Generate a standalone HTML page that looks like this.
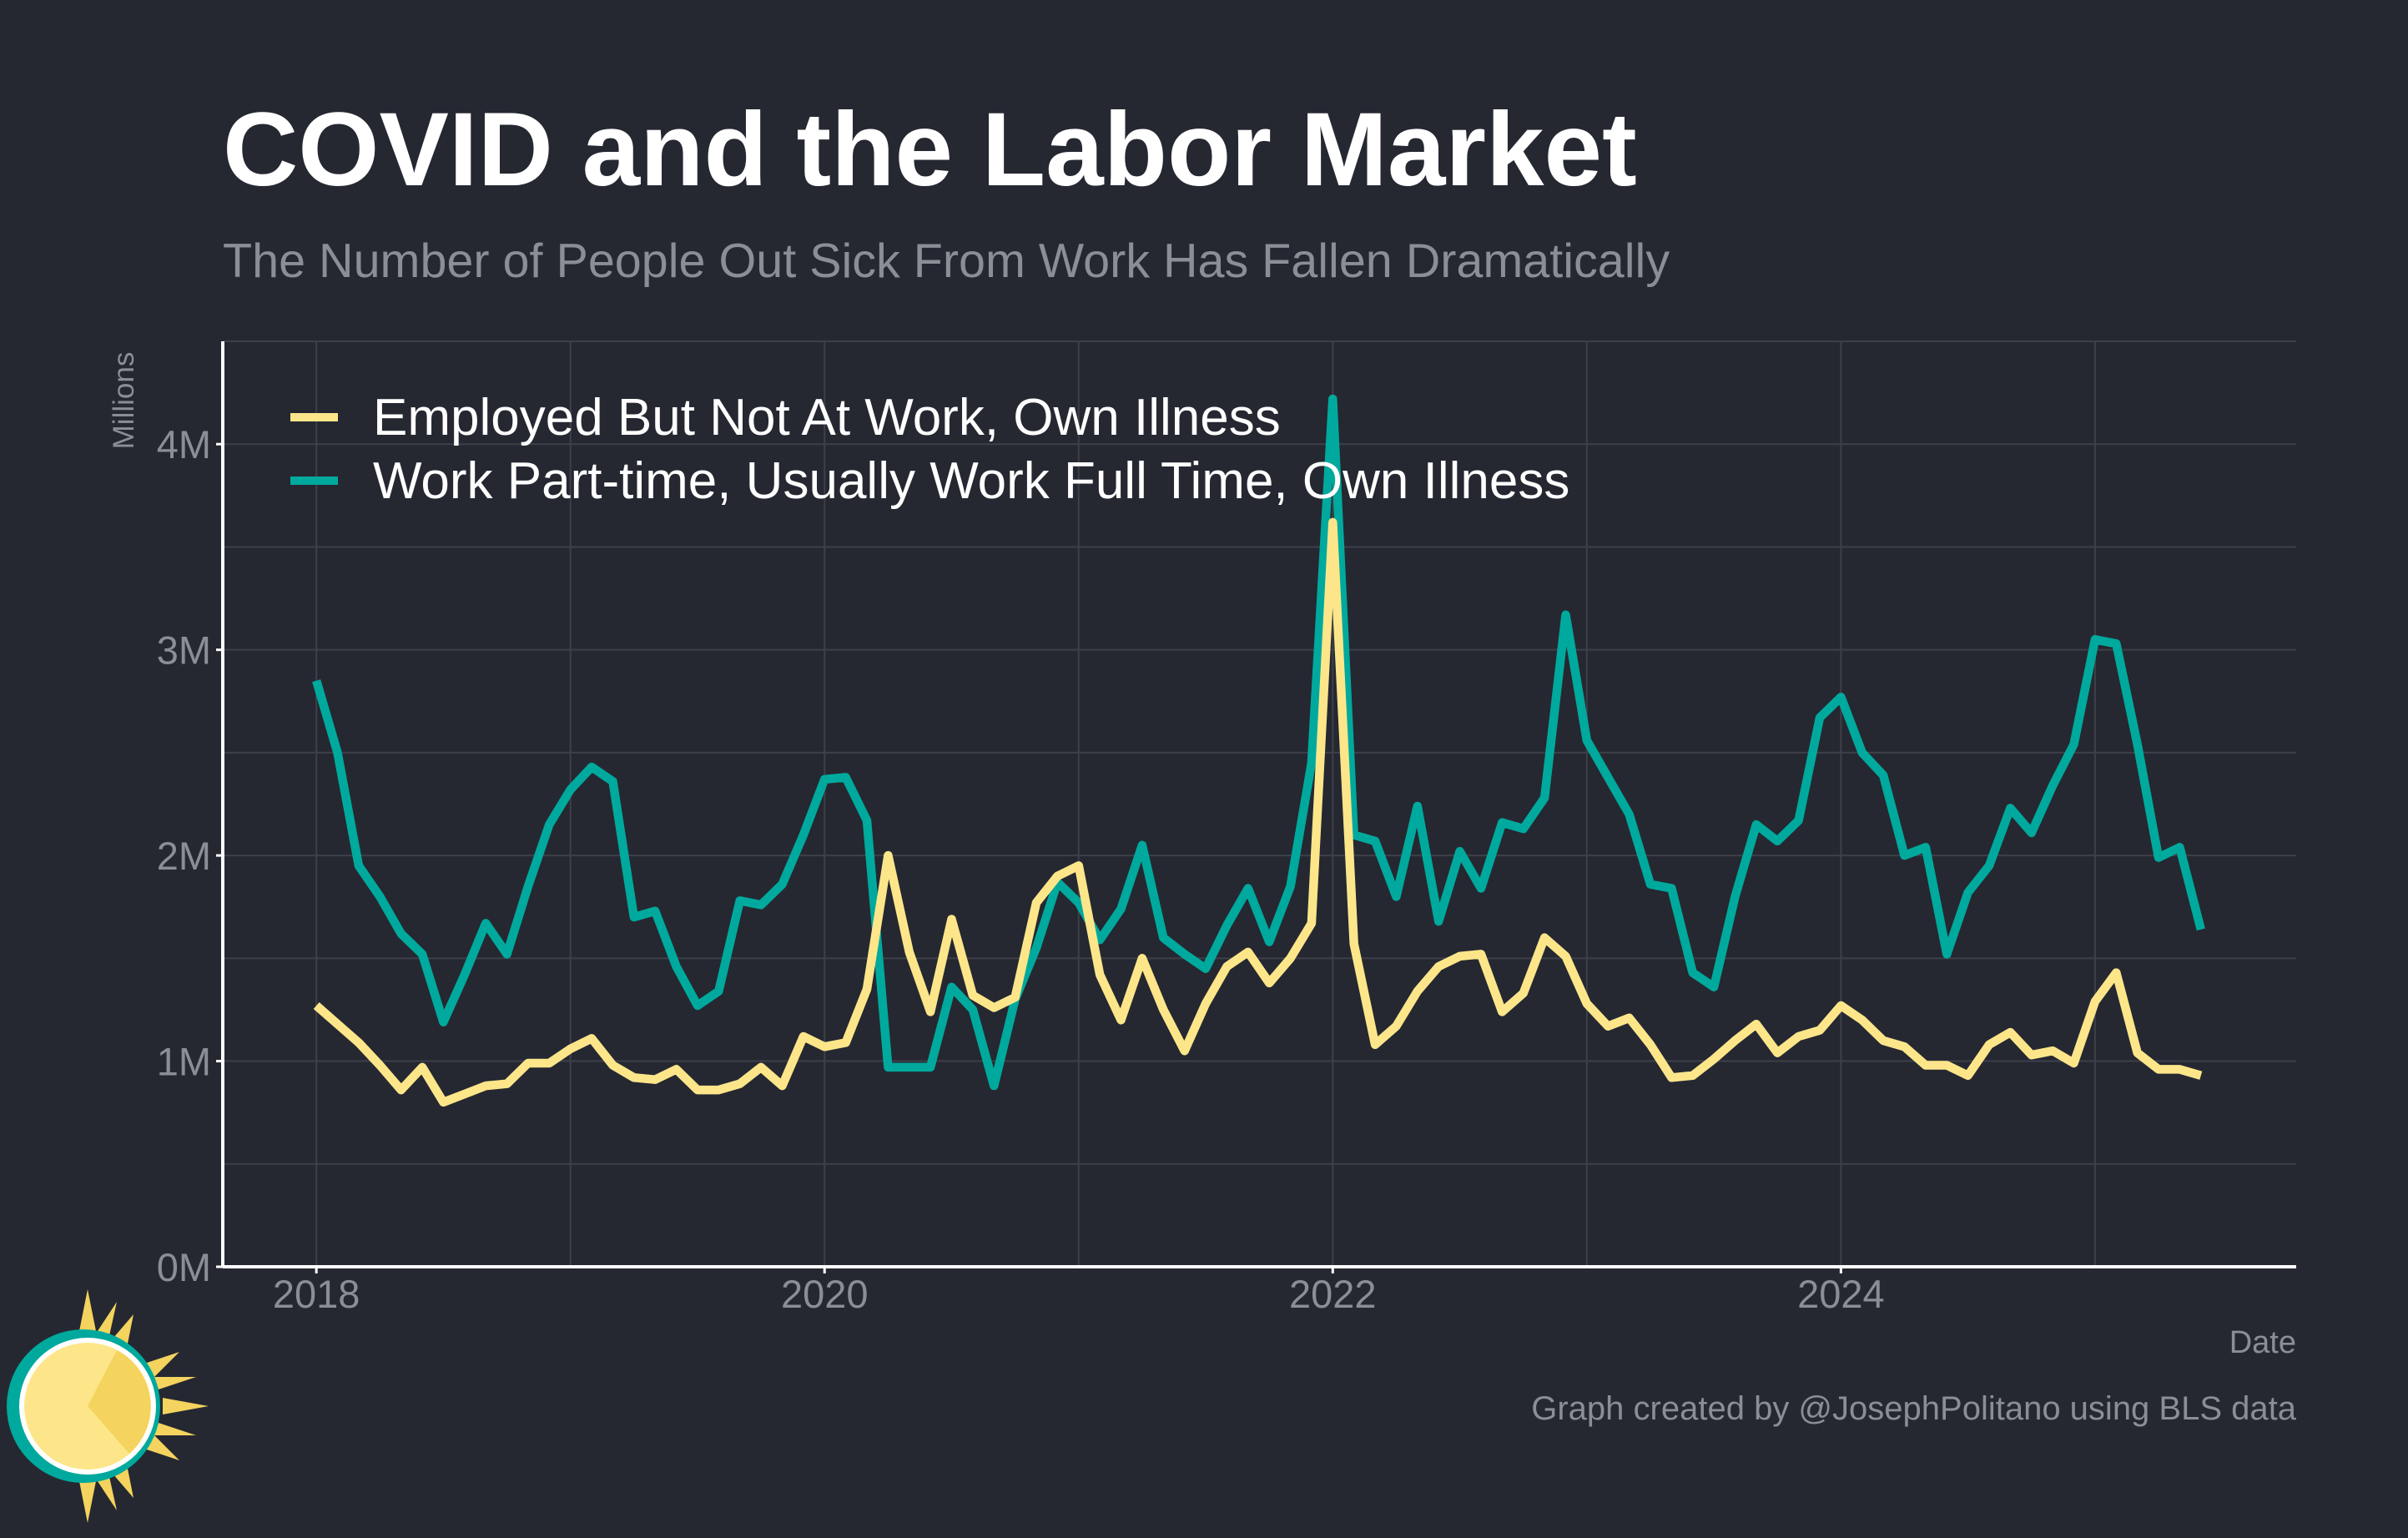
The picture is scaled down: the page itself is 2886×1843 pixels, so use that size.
<!DOCTYPE html>
<html><head><meta charset="utf-8"><style>
html,body{margin:0;padding:0;background:#252831;}
svg{display:block;font-family:"Liberation Sans",Arial,sans-serif;}
</style></head><body>
<svg id="chart" width="2886" height="1843" viewBox="0 0 2886 1843" xmlns="http://www.w3.org/2000/svg">
<rect width="2886" height="1843" fill="#252831"/>
<text x="267" y="222" font-size="125" font-weight="bold" fill="#ffffff">COVID and the Labor Market</text>
<text x="267" y="332" font-size="57.5" fill="#8b8e94">The Number of People Out Sick From Work Has Fallen Dramatically</text>
<g id="grid"></g>
<g id="series"></g>
<g id="axes"></g>
<text x="160" y="480" font-size="35" fill="#8b8e94" text-anchor="middle" transform="rotate(-90 160 480)">Millions</text>
<text x="2752" y="1621" font-size="38" fill="#8b8e94" text-anchor="end">Date</text>
<text x="2752" y="1701" font-size="40" fill="#8b8e94" text-anchor="end">Graph created by @JosephPolitano using BLS data</text>
<g>
<line x1="348" y1="500" x2="405" y2="500" stroke="#fde68a" stroke-width="10"/>
<text x="447" y="521" font-size="62" fill="#ffffff">Employed But Not At Work, Own Illness</text>
<line x1="348" y1="576" x2="405" y2="576" stroke="#00a99d" stroke-width="10"/>
<text x="447" y="597" font-size="62" fill="#ffffff">Work Part-time, Usually Work Full Time, Own Illness</text>
</g>
<g>
<g fill="#f4d35e">
<polygon points="105,1545 115,1595 95,1595"/><polygon points="105,1825 115,1775 95,1775"/>
<polygon points="250,1685 195,1675 195,1695"/>
<polygon points="160,1575 150,1625 130,1610"/><polygon points="160,1795 130,1760 150,1745"/>
<polygon points="215,1620 180,1655 170,1635"/><polygon points="215,1750 170,1735 180,1715"/>
<polygon points="140,1560 130,1605 115,1598"/><polygon points="140,1810 115,1772 130,1765"/>
<polygon points="235,1650 190,1665 185,1650"/><polygon points="235,1720 185,1720 190,1705"/>
</g>
<circle cx="100" cy="1685" r="92" fill="#00a99d"/>
<circle cx="105" cy="1685" r="82" fill="#ffffff"/>
<circle cx="105" cy="1685" r="76" fill="#fde68a"/>
<path d="M105,1685 L140,1618 A76,76 0 0 1 155,1742 Z" fill="#f4d35e"/>
</g>
<script>
const yTicks=[0,1,2,3,4];
const yTickLabels=["0M","1M","2M","3M","4M"];
const xTickYears=[2018,2020,2022,2024];
const employed=[1.27,1.18,1.09,0.98,0.86,0.97,0.80,0.84,0.88,0.89,0.99,0.99,
1.06,1.11,0.98,0.92,0.91,0.96,0.86,0.86,0.89,0.97,0.88,1.12,
1.07,1.09,1.35,2.00,1.53,1.24,1.69,1.32,1.26,1.31,1.77,1.90,
1.95,1.42,1.20,1.50,1.25,1.05,1.28,1.46,1.53,1.38,1.50,1.67,
3.62,1.57,1.08,1.17,1.34,1.46,1.51,1.52,1.24,1.33,1.60,1.51,
1.28,1.17,1.21,1.08,0.92,0.93,1.01,1.10,1.18,1.04,1.12,1.15,
1.27,1.20,1.10,1.07,0.98,0.98,0.93,1.08,1.14,1.03,1.05,0.99,
1.29,1.43,1.04,0.96,0.96,0.93];
const partTime=[2.85,2.50,1.95,1.80,1.62,1.52,1.19,1.42,1.67,1.52,1.85,2.15,
2.32,2.43,2.36,1.70,1.73,1.46,1.27,1.34,1.78,1.76,1.86,2.10,
2.37,2.38,2.17,0.97,0.97,0.97,1.36,1.25,0.88,1.30,1.55,1.87,
1.77,1.59,1.74,2.05,1.60,1.52,1.45,1.66,1.84,1.58,1.85,2.45,
4.22,2.10,2.07,1.80,2.24,1.68,2.02,1.84,2.16,2.13,2.28,3.17,
2.56,2.38,2.20,1.86,1.84,1.43,1.36,1.80,2.15,2.07,2.17,2.67,
2.77,2.50,2.39,2.00,2.04,1.52,1.82,1.95,2.23,2.11,2.34,2.54,
3.05,3.03,2.54,1.99,2.04,1.64];
const NS="http://www.w3.org/2000/svg";
const L=267,R=2752,T=409,B=1518;
const mMin=-4.42,mMax=93.5,yMax=4.5;
function xs(m){return L+(m-mMin)/(mMax-mMin)*(R-L);}
function ys(v){return B-v/yMax*(B-T);}
function mk(tag,attrs,parent){const e=document.createElementNS(NS,tag);for(const k in attrs)e.setAttribute(k,attrs[k]);parent.appendChild(e);return e;}
const grid=document.getElementById('grid'),axes=document.getElementById('axes'),ser=document.getElementById('series');
for(let v=0.5;v<=yMax+0.001;v+=0.5){
 const g=mk('line',{x1:L,x2:R,y1:ys(v),y2:ys(v),stroke:'#3d4049','stroke-width':2},grid);
 
 
}
for(let yr=2018;yr<=2025;yr++){
 const m=(yr-2018)*12;
 const g=mk('line',{x1:xs(m),x2:xs(m),y1:T,y2:B,stroke:'#3d4049','stroke-width':2},grid);
 
 
}
yTicks.forEach((v,i)=>{
 const t=mk('text',{x:L-14,y:ys(v)+17,'font-size':47,fill:'#8b8e94','text-anchor':'end'},axes);
 t.textContent=yTickLabels[i];
 
 
 const k=mk('line',{x1:L-8,x2:L,y1:ys(v),y2:ys(v),stroke:'#ffffff','stroke-width':3},axes);
 
 
});
xTickYears.forEach(yr=>{
 const x=xs((yr-2018)*12);
 const t=mk('text',{x:x,y:1567,'font-size':47,fill:'#8b8e94','text-anchor':'middle'},axes);
 t.textContent=String(yr);
 
 
 const k=mk('line',{x1:x,x2:x,y1:B,y2:B+8,stroke:'#ffffff','stroke-width':3},axes);
 
 
});
const ya=mk('line',{x1:L,x2:L,y1:T,y2:B,stroke:'#ffffff','stroke-width':4},axes);


const xa=mk('line',{x1:L,x2:R,y1:B,y2:B,stroke:'#ffffff','stroke-width':4},axes);


function line(arr,color,name){
 const d=arr.map((v,i)=>(i?'L':'M')+xs(i).toFixed(1)+','+ys(v).toFixed(1)).join(' ');
 const p=mk('path',{d:d,fill:'none',stroke:color,'stroke-width':10.5,'stroke-linejoin':'round'},ser);
 
 
}
line(partTime,'#00a99d','line-parttime-own-illness');
line(employed,'#fde68a','line-employed-not-at-work');
</script>
</svg>
</body></html>
